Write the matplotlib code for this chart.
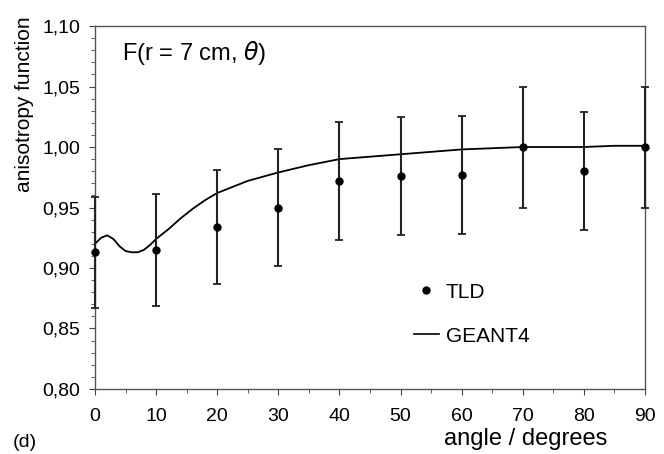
import matplotlib
matplotlib.use("Agg")
import matplotlib.pyplot as plt
from matplotlib.lines import Line2D
from matplotlib.ticker import MultipleLocator, FormatStrFormatter

plt.rcParams['font.family'] = ['Liberation Sans', 'DejaVu Sans']

# TLD measurements
tld_angle = [0, 10, 20, 30, 40, 50, 60, 70, 80, 90]
tld_value = [0.913, 0.915, 0.934, 0.950, 0.972, 0.976, 0.977, 1.000, 0.980, 1.000]
tld_err = [0.046, 0.046, 0.047, 0.048, 0.049, 0.049, 0.049, 0.050, 0.049, 0.050]

# GEANT4 curve
g4_angle = [0, 1, 2, 3, 4, 5, 6, 7, 8, 9, 10, 12, 14, 16, 18, 20, 25, 30, 35,
            40, 45, 50, 55, 60, 65, 70, 75, 80, 85, 90]
g4_value = [0.920, 0.925, 0.927, 0.924, 0.918, 0.914, 0.913, 0.913, 0.915, 0.919,
            0.924, 0.932, 0.941, 0.949, 0.956, 0.962, 0.972, 0.979, 0.985,
            0.990, 0.992, 0.994, 0.996, 0.998, 0.999, 1.000, 1.000, 1.000, 1.001, 1.001]

fig = plt.figure(figsize=(6.64, 4.54), dpi=100)
ax = fig.add_axes([0.1431, 0.1432, 0.8283, 0.7995])

ax.plot(g4_angle, g4_value, color='black', lw=1.3, clip_on=False, zorder=2)
ax.errorbar(tld_angle, tld_value, yerr=tld_err, fmt='o', color='black', ms=5,
            ecolor='#222222', elinewidth=1.5, capsize=3, capthick=1.3,
            clip_on=False, zorder=3)

ax.set_xlim(0, 90)
ax.set_ylim(0.80, 1.10)
ax.xaxis.set_major_locator(MultipleLocator(10))
ax.xaxis.set_minor_locator(MultipleLocator(5))
ax.yaxis.set_major_locator(MultipleLocator(0.05))
ax.yaxis.set_minor_locator(MultipleLocator(0.01))
ax.yaxis.set_major_formatter(FormatStrFormatter('%.2f'))
ax.set_yticklabels([f"{v:.2f}".replace('.', ',') for v in ax.get_yticks()])
ax.tick_params(which='both', direction='out', color='#444444', labelsize=14)
ax.tick_params(which='major', length=4.5)
ax.tick_params(which='minor', length=3)
ax.tick_params(axis='y', which='major', pad=6)
ax.tick_params(axis='x', which='major', pad=9)
for s in ax.spines.values():
    s.set_color('#555555')
    s.set_linewidth(1.0)

fig.text(25 / 664, 0.771, 'anisotropy function', fontsize=15, rotation=90,
         ha='center', va='center')
fig.text(607 / 664, 0.02, 'angle / degrees', fontsize=17, ha='right', va='baseline')
fig.text(0.019, 0.015, '(d)', fontsize=14, ha='left', va='baseline')
ax.text(0.049, 0.925, r'F(r = 7 cm, $\theta$)', transform=ax.transAxes,
        fontsize=17, va='center', ha='left')

handles = [Line2D([], [], ls='none', marker='o', color='black', ms=5),
           Line2D([], [], color='black', lw=1.2)]
ax.legend(handles, ['TLD', 'GEANT4'], frameon=False, fontsize=15,
          loc='upper left', bbox_to_anchor=(0.545, 0.345), handlelength=1.2,
          handletextpad=0.35, labelspacing=1.2)

fig.savefig('out.png', dpi=100)
